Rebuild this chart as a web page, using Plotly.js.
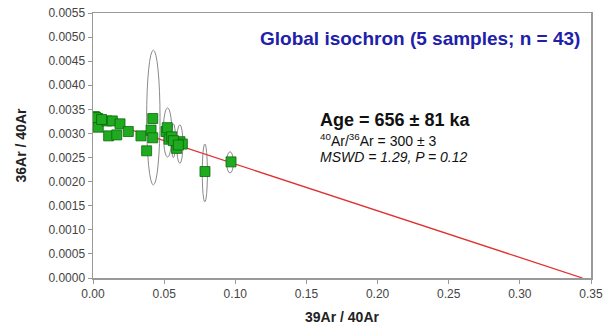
<!DOCTYPE html>
<html>
<head>
<meta charset="utf-8">
<script src="https://cdn.plot.ly/plotly-3.0.1.min.js"></script>
<style>html,body{margin:0;padding:0;background:#fff;}#chart{width:605px;height:328px;}</style>
</head>
<body>
<div id="chart"></div>
<script>
// Data points: 39Ar/40Ar (x) vs 36Ar/40Ar (y)
const ratio39 = [0.0010, 0.0033, 0.0042, 0.0037, 0.0096, 0.0136, 0.0110, 0.0167, 0.0190, 0.0248,
                 0.0337, 0.0377, 0.0408, 0.0420, 0.0420, 0.0513, 0.0522, 0.0536, 0.0553, 0.0588,
                 0.0611, 0.0628, 0.0787, 0.0970, 0.0020, 0.0060, 0.0565, 0.0600];
const ratio36 = [0.00335, 0.00331, 0.00326, 0.00313, 0.00326, 0.00326, 0.00295, 0.00297, 0.00320, 0.00304,
                 0.00295, 0.00264, 0.00307, 0.00331, 0.00291, 0.00304, 0.00312, 0.00288, 0.00293, 0.00269,
                 0.00283, 0.00278, 0.00221, 0.00241, 0.00333, 0.00329, 0.00285, 0.00276];
const err36   = [0.00006, 0.00006, 0.00006, 0.00008, 0.00006, 0.00008, 0.00007, 0.00007, 0.00008, 0.00004,
                 0.00004, 0.00004, 0.00004, 0.00004, 0.00004, 0.00004, 0.00004, 0.00004, 0.00004, 0.00004,
                 0.00004, 0.00004, 0.00000, 0.00000, 0.00006, 0.00006, 0.00004, 0.00004];

// Error ellipses: centre and half-axes
const ellCx = [0.0424, 0.0524, 0.0610, 0.0565, 0.0786, 0.0963];
const ellCy = [0.00333, 0.00302, 0.00278, 0.00285, 0.00218, 0.00240];
const ellRx = [0.0047, 0.0030, 0.0022, 0.0015, 0.0018, 0.0024];
const ellRy = [0.00140, 0.00051, 0.00040, 0.00035, 0.00060, 0.00022];

// Isochron line
const lineX = [0, 0.344];
const lineY = [1/300, 0];

// Axis ticks
const xTicks = [0, 0.05, 0.10, 0.15, 0.20, 0.25, 0.30, 0.35];
const xTickText = ["0.00","0.05","0.10","0.15","0.20","0.25","0.30","0.35"];
const yTicks = [0,0.0005,0.001,0.0015,0.002,0.0025,0.003,0.0035,0.004,0.0045,0.005,0.0055];
const yTickText = ["0.0000","0.0005","0.0010","0.0015","0.0020","0.0025","0.0030","0.0035","0.0040","0.0045","0.0050","0.0055"];

const shapes = ellCx.map((cx, i) => ({
  type: 'circle', xref: 'x', yref: 'y',
  x0: cx - ellRx[i], x1: cx + ellRx[i],
  y0: ellCy[i] - ellRy[i], y1: ellCy[i] + ellRy[i],
  line: {color: '#8a8a8a', width: 1}, layer: 'below'
}));

const traces = [
  {x: lineX, y: lineY, mode: 'lines', line: {color: '#e03030', width: 1.3}, hoverinfo: 'skip'},
  {x: ratio39, y: ratio36, mode: 'markers',
   marker: {symbol: 'square', size: 10, color: '#1faa1f', line: {color: '#0a6a0a', width: 0.8}},
   error_y: {type: 'data', array: err36, visible: true, color: '#555', thickness: 1, width: 0}}
];

const layout = {
  width: 605, height: 328,
  margin: {l: 93, r: 14, t: 13, b: 50},
  paper_bgcolor: '#fff', plot_bgcolor: '#fff',
  showlegend: false,
  font: {family: 'Liberation Sans, Arial, sans-serif', color: '#444'},
  xaxis: {
    range: [0, 0.35], tickvals: xTicks, ticktext: xTickText,
    showgrid: false, zeroline: false, showline: true, mirror: true,
    linecolor: '#999', linewidth: 1.5, ticks: 'outside', ticklen: 4, tickcolor: '#999',
    tickfont: {size: 12, color: '#444'},
    title: {text: '<b>39Ar / 40Ar</b>', font: {size: 14, color: '#222'}, standoff: 12}
  },
  yaxis: {
    range: [0, 0.0055], tickvals: yTicks, ticktext: yTickText,
    showgrid: false, zeroline: false, showline: true, mirror: true,
    linecolor: '#999', linewidth: 1.5, ticks: 'outside', ticklen: 4, tickcolor: '#999',
    tickfont: {size: 12, color: '#444'},
    title: {text: '<b>36Ar / 40Ar</b>', font: {size: 14, color: '#222'}, standoff: 18}
  },
  shapes: shapes,
  annotations: [
    {xref: 'paper', yref: 'paper', x: 0.982, y: 0.902, xanchor: 'right', yanchor: 'middle',
     text: '<b>Global isochron (5 samples; n = 43)</b>', showarrow: false,
     font: {size: 19, color: '#2020aa'}},
    {xref: 'x', yref: 'y', x: 0.158, y: 0.00328, xanchor: 'left', yanchor: 'middle',
     text: '<b>Age = 656 ± 81 ka</b>', showarrow: false, font: {size: 18, color: '#111'}},
    {xref: 'x', yref: 'y', x: 0.158, y: 0.00286, xanchor: 'left', yanchor: 'middle',
     text: '<sup>40</sup>Ar/<sup>36</sup>Ar = 300 ± 3', showarrow: false, font: {size: 14, color: '#111'}},
    {xref: 'x', yref: 'y', x: 0.158, y: 0.00252, xanchor: 'left', yanchor: 'middle',
     text: '<i>MSWD = 1.29, P = 0.12</i>', showarrow: false, font: {size: 14, color: '#111'}}
  ]
};

Plotly.newPlot('chart', traces, layout, {displayModeBar: false, staticPlot: true});
</script>
</body>
</html>
